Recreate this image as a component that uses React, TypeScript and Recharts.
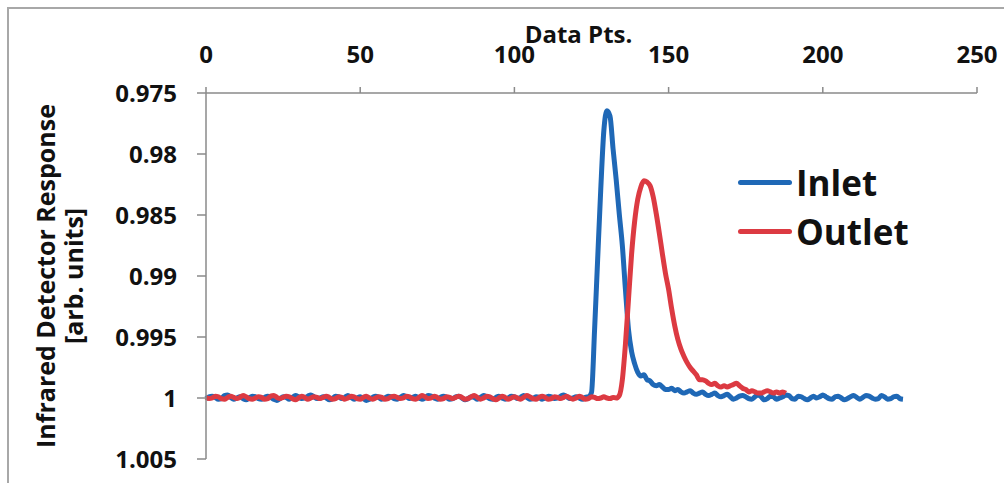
import React from 'react';
import { LineChart, Line, XAxis, YAxis, Legend } from 'recharts';

// x positions (data point number) are the array index
const inletVals = [
  1.00005, 0.9999, 0.99985, 0.99995, 1.0001, 1.00005, 0.9998, 0.99975, 0.99995, 1.0001,
  1.0, 0.9999, 1.00005, 1.00015, 1.0, 0.99985, 0.9999, 1.00005, 1.0001, 0.99995,
  0.99985, 0.99995, 1.0001, 1.0002, 1.00005, 0.9999, 0.99995, 1.0001, 0.99995, 0.9998,
  0.9999, 1.00005, 1.0, 0.99985, 0.99975, 0.9999, 1.00005, 1.0, 0.9999, 1.0,
  1.00015, 1.00005, 0.99985, 0.9999, 1.00005, 0.99995, 0.9998, 0.99995, 1.0001, 1.0,
  0.9999, 1.00005, 1.0002, 1.0001, 0.99995, 0.99985, 0.99995, 1.0001, 1.0, 0.99985,
  0.9999, 1.00005, 1.0001, 0.99995, 0.9998, 0.9999, 1.00005, 0.99995, 0.99985, 1.0,
  1.0001, 1.0, 0.9998, 0.99985, 1.0, 1.0001, 0.99995, 0.99985, 0.99995, 1.0001,
  1.00005, 0.9999, 0.99985, 1.0, 1.00015, 1.00005, 0.9999, 0.99995, 1.0001, 0.99995,
  0.9998, 0.9999, 1.00005, 1.0001, 0.99995, 0.99985, 1.0, 1.0001, 1.0, 0.99985,
  0.9999, 1.00005, 0.99995, 0.9998, 0.99995, 1.0001, 1.00005, 0.9999, 0.99995, 1.0001,
  1.0, 0.99985, 0.9999, 1.00005, 1.0, 0.99985, 0.99975, 0.9999, 1.00005, 1.0,
  0.9999, 1.0, 1.0001, 0.99995, 0.9999,
  // peak
  0.99955, 0.9944, 0.9886, 0.9829, 0.9781, 0.97645, 0.9769, 0.9796, 0.9821, 0.9849,
  0.9875, 0.9911, 0.9944, 0.9962, 0.9972, 0.9979, 0.9982, 0.9981, 0.9985, 0.9986,
  0.9989, 0.999, 0.9989, 0.9991, 0.9993, 0.9993, 0.9992, 0.9994, 0.9993, 0.9995,
  0.9996, 0.9995, 0.9994, 0.9996, 0.9997, 0.9996, 0.9995, 0.9997, 0.9998, 0.9997,
  0.9996, 0.9998, 0.9999, 0.9998, 0.9997, 0.9999,
  // tail
  1.0001, 1.0, 0.99985, 0.9998, 0.9999, 1.00005, 1.0001, 0.9999, 0.99975, 0.9999,
  1.00015, 1.00005, 0.99985, 0.9999, 1.0001, 1.0, 0.9999, 0.99975, 0.9998, 1.00005,
  1.0001, 0.99985, 0.9999, 1.00005, 1.00015, 1.0, 0.99985, 1.0, 0.9999, 0.99975,
  0.9999, 1.00005, 1.0001, 0.9999, 0.99985, 1.0, 1.00015, 1.00005, 0.9999, 0.9998,
  0.99995, 1.0001, 0.99995, 0.9998, 0.99985, 1.0, 1.0001, 1.00005, 0.9998, 0.9999,
  1.0001, 1.00005, 0.9999, 0.99985, 1.00005, 1.0001,
];

const outletVals = [
  0.99995, 1.00005, 1.0, 0.99985, 0.9999, 1.00005, 1.0001, 0.99995, 0.99985, 0.99995,
  1.00005, 0.99995, 0.9998, 0.9999, 1.00005, 1.0001, 1.0, 0.9999, 0.99995, 1.0001,
  1.00005, 0.99985, 0.9998, 0.99995, 1.00005, 0.99995, 0.99985, 0.9999, 1.00005, 1.00015,
  1.0, 0.99985, 0.99995, 1.0001, 1.0, 0.9999, 0.99995, 1.00005, 0.99995, 0.99985,
  0.99995, 1.0001, 1.00005, 0.9999, 0.99995, 1.0001, 1.0, 0.99985, 0.9999, 1.00005,
  1.0001, 0.99995, 0.99985, 1.0, 1.0001, 1.0, 0.9999, 0.99995, 1.0001, 1.00005,
  0.9999, 0.99985, 0.99995, 1.00005, 1.0, 0.99985, 0.9999, 1.00005, 1.0001, 0.99995,
  0.9998, 0.9999, 1.00005, 1.0, 0.99985, 0.99995, 1.0001, 1.00005, 0.9999, 0.99995,
  1.00005, 0.99995, 0.99985, 0.99995, 1.0001, 1.00005, 0.9999, 0.9998, 0.99995, 1.0001,
  1.0, 0.99985, 0.9999, 1.00005, 1.00015, 1.0, 0.99985, 0.99995, 1.0001, 1.0,
  0.9999, 1.0, 1.0001, 0.99995, 0.9998, 0.9999, 1.00005, 1.0001, 0.99995, 0.99985,
  0.99995, 1.0001, 1.00005, 0.9999, 0.99995, 1.00005, 0.99995, 0.99985, 1.0, 1.0001,
  1.0, 0.99985, 0.99995, 1.0001, 1.00005, 0.9999, 0.99995, 1.00005, 1.0, 0.9999,
  1.0, 1.00005, 0.99995, 1.0,
  // peak
  0.9998, 0.9985, 0.9956, 0.9919, 0.9882, 0.9855, 0.9837, 0.9827, 0.9822, 0.9823,
  0.9826, 0.9835, 0.9849, 0.9865, 0.9882, 0.9898, 0.9911, 0.9927, 0.9941, 0.9952,
  0.996, 0.9966, 0.9971, 0.9975, 0.9978, 0.9981, 0.9985, 0.9985, 0.9986, 0.9988,
  0.9989, 0.9988, 0.999, 0.9991, 0.999, 0.9991, 0.999, 0.9989, 0.9988, 0.999,
  0.9992, 0.9993, 0.9995, 0.9994, 0.9995, 0.9996, 0.9996, 0.9995, 0.9994, 0.9995,
  0.9996, 0.9995, 0.9996, 0.9995, 0.9996,
];

const xTicks = [0, 50, 100, 150, 200, 250];
const yTicks = [0.975, 0.98, 0.985, 0.99, 0.995, 1, 1.005];

const data = inletVals.map((v, i) => ({ pt: i, inlet: v, outlet: outletVals[i] }));

const FONT = '"Open Sans", sans-serif';
const AXIS = '#8a8a8a';

const renderLegend = (props: any) => (
  <div>
    {props.payload.map((e: any) => (
      <div key={e.value} style={{ display: 'flex', alignItems: 'center', height: 49 }}>
        <span style={{ width: 54, height: 5, borderRadius: 3, background: e.color, display: 'inline-block' }} />
        <span style={{ fontSize: 35, fontWeight: 700, color: '#111', marginLeft: 4, fontFamily: FONT }}>{e.value}</span>
      </div>
    ))}
  </div>
);

const YTitle = (props: any) => {
  const vb = props.viewBox || { x: 0, y: 93, width: 206, height: 366 };
  const cy = vb.y + vb.height / 2;
  const style = { fontSize: 25, fontWeight: 700, fill: '#111', fontFamily: FONT };
  return (
    <g>
      <text transform={`translate(45,${cy}) rotate(-90)`} textAnchor="middle" dominantBaseline="central" style={style}>
        Infrared Detector Response
      </text>
      <text transform={`translate(73,${cy}) rotate(-90)`} textAnchor="middle" dominantBaseline="central" style={style}>
        [arb. units]
      </text>
    </g>
  );
};

export default function App() {
  const tickStyle = { fill: '#111', fontSize: 24, fontWeight: 700, fontFamily: FONT };
  return (
    <div style={{ position: 'absolute', left: 0, top: 0, width: 1004, height: 483, overflow: 'hidden', background: '#fff', fontFamily: FONT }}>
      <div style={{ position: 'absolute', left: 7, top: 7, width: 1100, height: 600, borderLeft: '2px solid #a8a8a8', borderTop: '2px solid #a8a8a8' }} />
      <div style={{ position: 'absolute', left: 0, top: 0 }}>
        <LineChart width={1004} height={483} data={data} margin={{ top: 0, right: 27, bottom: 24, left: 0 }}>
          <XAxis
            dataKey="pt"
            type="number"
            orientation="top"
            domain={[0, 250]}
            ticks={xTicks}
            height={93}
            tickSize={6}
            tickMargin={24}
            axisLine={{ stroke: AXIS, strokeWidth: 1.5 }}
            tickLine={{ stroke: AXIS, strokeWidth: 1.5 }}
            tick={tickStyle}
            label={{ value: 'Data Pts.', position: 'insideTop', offset: 26, dx: -13, style: { fontSize: 24, fontWeight: 700, fill: '#111', fontFamily: FONT } }}
          />
          <YAxis
            type="number"
            domain={[0.975, 1.005]}
            reversed
            ticks={yTicks}
            width={206}
            tickSize={9}
            tickMargin={20}
            allowDataOverflow
            axisLine={{ stroke: AXIS, strokeWidth: 1.5 }}
            tickLine={{ stroke: AXIS, strokeWidth: 1.5 }}
            tick={tickStyle}
            tickFormatter={(v: number) => String(v)}
            label={<YTitle />}
          />
          <Legend
            layout="vertical"
            align="center"
            verticalAlign="middle"
            content={renderLegend}
            wrapperStyle={{ left: 738, top: 158, width: 220, height: 100 }}
          />
          <Line type="monotone" dataKey="inlet" name="Inlet" stroke="#1f68b6" strokeWidth={5} dot={false} isAnimationActive={false} />
          <Line type="monotone" dataKey="outlet" name="Outlet" stroke="#dc3a42" strokeWidth={5} dot={false} isAnimationActive={false} />
        </LineChart>
      </div>
    </div>
  );
}
